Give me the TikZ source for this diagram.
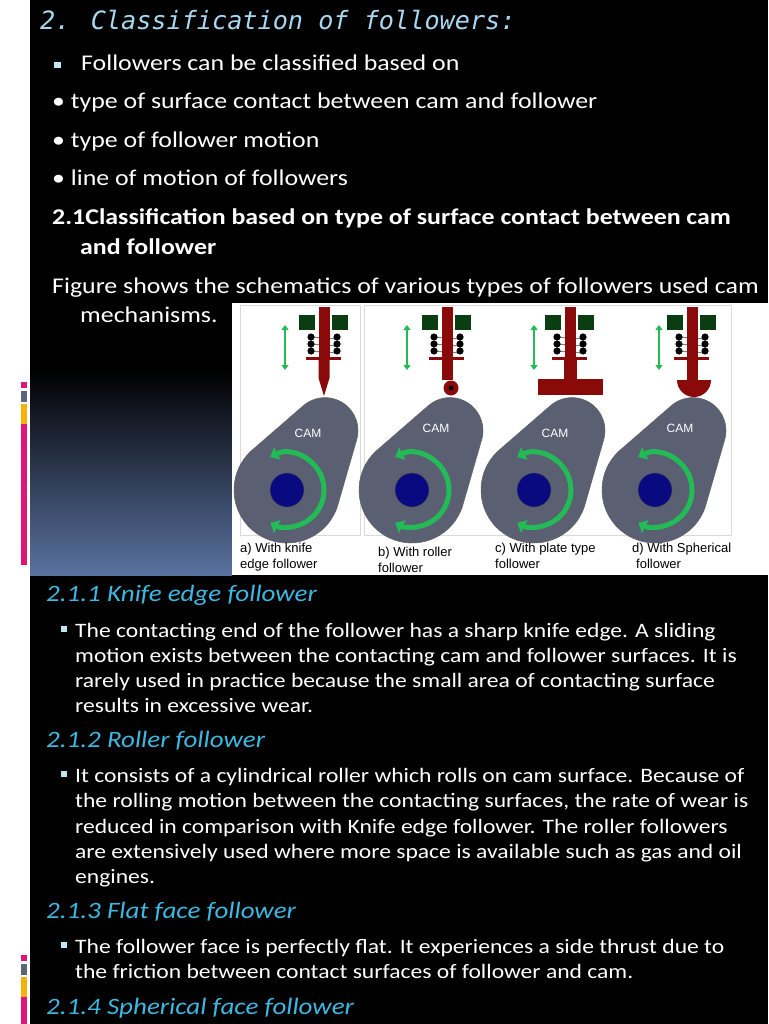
\documentclass[tikz,border=0pt]{standalone}
\usepackage{fontspec}
\setmainfont{Carlito}[FakeStretch=1.15]
\newfontfamily\titlefont{DejaVu Sans Mono}
\newfontfamily\figfont{Liberation Sans}
\usetikzlibrary{arrows.meta}
\definecolor{tcol}{HTML}{A8D8F0}
\definecolor{hcol}{HTML}{3DB8E0}
\definecolor{stemc}{HTML}{8A0A0A}
\definecolor{blockc}{HTML}{0B3D12}
\definecolor{camc}{HTML}{5A5F72}
\definecolor{hubc}{HTML}{0A0A80}
\definecolor{arrc}{HTML}{22BB55}
\definecolor{grad}{HTML}{5A72A0}
\definecolor{pinkc}{HTML}{E0157A}
\definecolor{greyc}{HTML}{5A6578}
\definecolor{yelc}{HTML}{F5B30A}
\tikzset{
  body/.style={anchor=base west,inner sep=0pt,text=white,font=\fontsize{22.5}{26}\selectfont},
  para/.style={anchor=base west,inner sep=0pt,text=white,font=\fontsize{20.5}{24}\selectfont},
  head/.style={anchor=base west,inner sep=0pt,text=hcol,font=\fontsize{23.5}{27}\selectfont\itshape},
  figcap/.style={anchor=base west,inner sep=0pt,text=black,font=\figfont\fontsize{13}{15}\selectfont},
  camlbl/.style={inner sep=0pt,text=white,font=\figfont\fontsize{12}{14}\selectfont},
  sq/.style={fill=tcol!70!white},
}
\newcommand{\mycam}[2]{% #1 = x offset, #2 = name
  \begin{scope}[xshift=#1pt]
    \fill[camc,draw=black!60,line width=0.6pt] (337.5,506.1) -- (356.4,440.6) arc[start angle=17.65,end angle=-132.95,radius=33] -- (250.9,451.2) arc[start angle=-132.95,end angle=-342.35,radius=53] -- cycle;
    \fill[hubc,draw=black!70] (287,490) circle[radius=17];
    \draw[arrc,line width=5pt,{Triangle[length=8pt,width=14pt]}-{Triangle[length=8pt,width=14pt]}] (287,490) ++(-117:37) arc[start angle=-117,end angle=117,radius=37];
  \end{scope}}
\newcommand{\myfollower}[3]{% #1 stem x, #2 arrow x
  \fill[blockc] (#1-25,315) rectangle (#1-9,330);
  \fill[blockc] (#1+8,315) rectangle (#1+24,330);
  \foreach \yy in {337,344,351}{
    \draw[gray,line width=1pt] (#1-14,\yy) -- (#1+14,\yy+2);
    \fill[black] (#1-13,\yy) circle[radius=3.6];
    \fill[black] (#1+13,\yy) circle[radius=3.6];}
  \fill[stemc] (#1-5.5,307) rectangle (#1+5.5,360);
  \fill[stemc] (#1-18,357) rectangle (#1+17,360);
  \draw[arrc,line width=2pt,{Triangle[length=5pt,width=7pt]}-{Triangle[length=5pt,width=7pt]}] (#2,325) -- (#2,370);
}
\begin{document}
\begin{tikzpicture}[x=1pt,y=-1pt]
\useasboundingbox (0,0) rectangle (768,1024);
\fill[white] (0,0) rectangle (768,1024);
\fill[black] (30,0) rectangle (768,1024);
\shade[top color=black,bottom color=grad] (30,370) rectangle (232,575);
% left decorations
\foreach \yy in {58,632}{
  \fill[white] (17,\yy) rectangle (19,\yy+32);
  \fill[white] (21,\yy) rectangle (23,\yy+32);
  \fill[white] (25,\yy) rectangle (27,\yy+32);}
\foreach \yy in {382,955}{
  \fill[pinkc] (21,\yy) rectangle (27,\yy+6);
  \fill[greyc] (21,\yy+9) rectangle (27,\yy+20);
  \fill[yelc] (21,\yy+22) rectangle (27,\yy+42);}
\fill[pinkc] (21,424) rectangle (27,565);
\fill[pinkc] (21,997) rectangle (27,1024);
% text
\node[anchor=base west,inner sep=0pt,text=tcol,font=\titlefont\fontsize{25.2}{28}\selectfont\itshape] (title) at (40,30) {2. Classification of followers:};
\fill[sq] (54,62) rectangle (61,68);
\node[body] (l1) at (81,71) {Followers can be classified based on};
\node[body] (l2) at (52,109) {• type of surface contact between cam and follower};
\node[body] (l3) at (52,148) {• type of follower motion};
\node[body] (l4) at (52,186) {• line of motion of followers};
\node[body,font=\fontsize{22.5}{26}\selectfont\bfseries] (l5) at (52,225) {2.1Classification based on type of surface contact between cam};
\node[body,font=\fontsize{22.5}{26}\selectfont\bfseries] (l6) at (80,254) {and follower};
\node[body] (l7) at (52,293) {Figure shows the schematics of various types of followers used cam};
\node[body] (l8) at (80,322) {mechanisms.};
% figure
\fill[white] (232,303) rectangle (768,575);
\draw[black!15,line width=0.8pt] (240,305) rectangle (360,535);
\draw[black!15,line width=0.8pt] (364,305) rectangle (731,535);
\mycam{0}{a}
\mycam{125}{b}
\mycam{247}{c}
\mycam{368}{d}
\node[camlbl] (ca) at (308,433) {CAM};
\node[camlbl] (cb) at (436,428) {CAM};
\node[camlbl] (cc) at (555,433) {CAM};
\node[camlbl] (cd) at (680,428) {CAM};
% followers
\myfollower{324}{285}{}
\fill[stemc] (318.5,360) -- (318.5,378) -- (324,396) -- (329.5,378) -- (329.5,360) -- cycle;
\myfollower{447}{407}{}
\fill[stemc] (441.5,360) rectangle (452.5,380);
\fill[stemc] (451,388) circle[radius=7.5];
\fill[black] (451,388) circle[radius=2.5];
\myfollower{570}{534}{}
\fill[stemc] (563.5,360) rectangle (577,380);
\fill[stemc] (538,379) rectangle (603,395);
\myfollower{692}{659}{}
\fill[stemc] (686.5,360) rectangle (697.5,381);
\fill[stemc] (677,380) arc[start angle=180,end angle=0,radius=17] -- cycle;
\node[figcap] (fa1) at (240,552) {a) With knife};
\node[figcap] (fa2) at (240,568) {edge follower};
\node[figcap] (fb1) at (378,556) {b) With roller};
\node[figcap] (fb2) at (378,572) {follower};
\node[figcap] (fc1) at (495,552) {c) With plate type};
\node[figcap] (fc2) at (495,568) {follower};
\node[figcap] (fd1) at (632,552) {d) With Spherical};
\node[figcap] (fd2) at (636,568) {follower};
% sections
\node[head] (h1) at (46,601) {2.1.1 Knife edge follower};
\fill[sq] (61,626) rectangle (67,632);
\node[para] (p11) at (75,637) {The contacting end of the follower has a sharp knife edge. A sliding};
\node[para] (p12) at (75,662) {motion exists between the contacting cam and follower surfaces. It is};
\node[para] (p13) at (75,687) {rarely used in practice because the small area of contacting surface};
\node[para] (p14) at (75,712) {results in excessive wear.};
\node[head] (h2) at (46,747) {2.1.2 Roller follower};
\fill[sq] (61,771) rectangle (67,777);
\node[para] (p21) at (75,782) {It consists of a cylindrical roller which rolls on cam surface. Because of};
\node[para] (p22) at (75,807) {the rolling motion between the contacting surfaces, the rate of wear is};
\node[para] (p23) at (75,833) {reduced in comparison with Knife edge follower. The roller followers};
\node[para] (p24) at (75,858) {are extensively used where more space is available such as gas and oil};
\node[para] (p25) at (75,883) {engines.};
\node[head] (h3) at (46,918) {2.1.3 Flat face follower};
\fill[sq] (61,942) rectangle (67,948);
\node[para] (p31) at (75,953) {The follower face is perfectly flat. It experiences a side thrust due to};
\node[para] (p32) at (75,978) {the friction between contact surfaces of follower and cam.};
\node[head] (h4) at (46,1014) {2.1.4 Spherical face follower};
\end{tikzpicture}
\end{document}
